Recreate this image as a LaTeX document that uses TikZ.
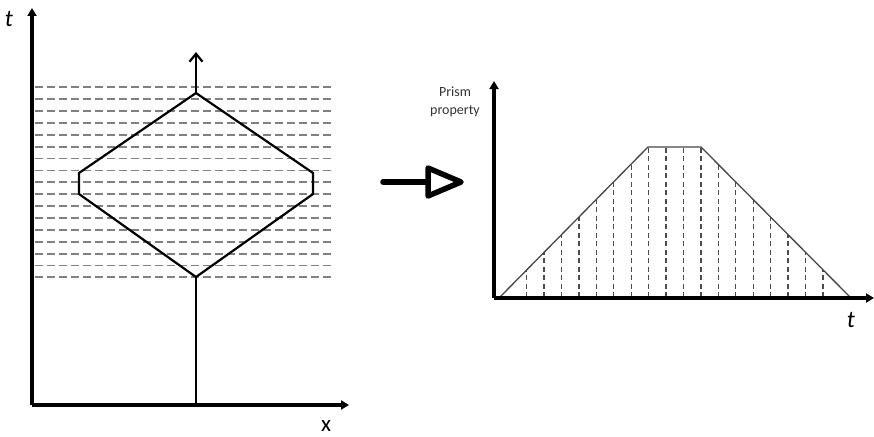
\documentclass[tikz,border=0pt]{standalone}
\usepackage{fontspec}
\setmainfont{Carlito}
\usetikzlibrary{arrows.meta}

\begin{document}
\begin{tikzpicture}[
  x=1pt, y=-1pt,
  axis/.style={line width=3.2pt, -{Triangle[length=8pt,width=9pt]}},
  grid/.style={black!50, line width=1.8pt, dash pattern=on 8pt off 4pt},
  traj/.style={line width=2.2pt, line join=miter},
  prof/.style={gray!55!black, line width=1.3pt},
  slice/.style={black!70, line width=1.3pt, dash pattern=on 5pt off 3.5pt},
  bigarr/.style={line width=5.5pt, line cap=round, line join=round},
  lbl/.style={font=\fontsize{24}{24}\selectfont, inner sep=0pt, anchor=base},
]
\useasboundingbox (0,0) rectangle (874,436);

% ---- Left: space-time sketch -----------------------------------------------
\foreach \i in {0,...,16}
  \draw[grid] (35, 87.3+\i*11.88) -- (334, 87.3+\i*11.88);

\coordinate (top) at (196, 93);
\coordinate (bot) at (196, 277);
\draw[traj] (top) -- (313, 173) -- (313, 194) -- (bot)
  -- (79, 194) -- (79, 173) -- cycle;
\draw[traj] (196, 405) -- (bot);
\draw[traj, -{Straight Barb[length=8pt,width=13pt]}] (top) -- (196, 52);

\coordinate (o1) at (32, 405);
\draw[axis] (o1) -- (32, 8);
\draw[axis] (o1) -- (349, 405);
\node[lbl, font=\fontsize{24}{24}\selectfont\itshape] (t1) at (9, 27) {t};
\node[lbl, font=\fontsize{23}{23}\selectfont] (x1) at (326, 431) {x};

% ---- Middle: transform arrow -------------------------------------------------
\draw[bigarr] (383, 182) -- (428, 182);
\draw[bigarr, fill=white] (428, 168) -- (461, 182) -- (428, 196) -- cycle;

% ---- Right: prism property profile -----------------------------------------
\foreach \k in {0,...,17} {
  \pgfmathsetmacro{\xs}{526.7+\k*17.42}
  \pgfmathsetmacro{\ys}{max(147, 297-(\xs-500)*1.0135, 297-(850-\xs)*1.0067)}
  \draw[slice] (\xs, 297) -- (\xs, \ys);
}
\draw[prof] (500, 297) -- (648, 147) -- (701, 147) -- (850, 297);

\coordinate (o2) at (494, 298);
\draw[axis] (o2) -- (494, 81);
\draw[axis] (o2) -- (874, 298);
\node[align=center, font=\fontsize{14}{18}\selectfont, black!80] (prop)
  at (455, 102) {Prism\\property};
\node[lbl, font=\fontsize{24}{24}\selectfont\itshape] (t2) at (851, 327) {t};

\end{tikzpicture}
\end{document}
